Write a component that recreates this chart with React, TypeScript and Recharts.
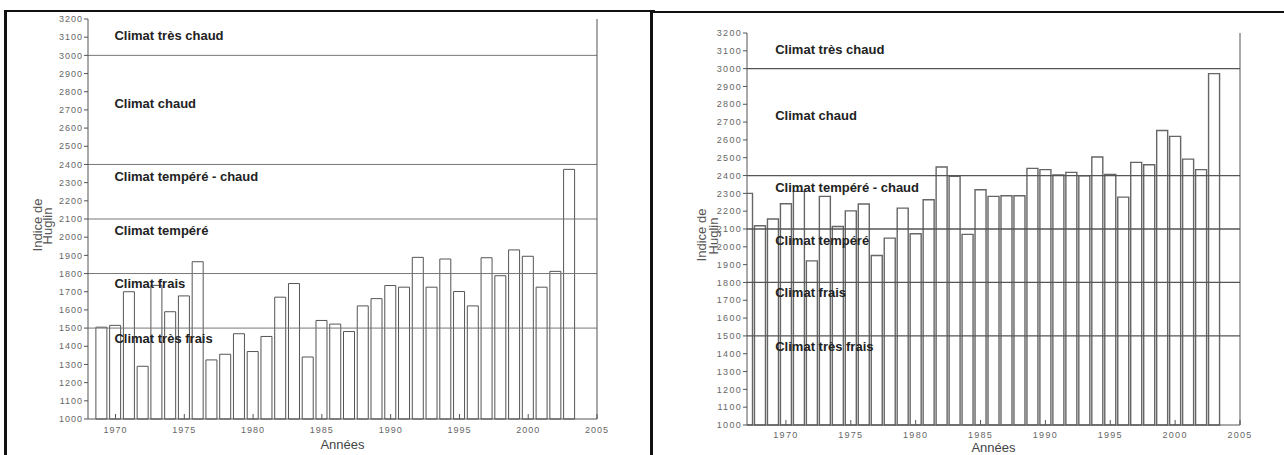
import { BarChart, Bar, XAxis, YAxis, ReferenceLine, ReferenceDot, Label } from "recharts";

const FONT = '"Liberation Sans", Arial, Helvetica, sans-serif';

// left panel: 1969-2003
const yearsLeft = [
  1969, 1970, 1971, 1972, 1973, 1974, 1975, 1976, 1977, 1978, 1979, 1980,
  1981, 1982, 1983, 1984, 1985, 1986, 1987, 1988, 1989, 1990, 1991, 1992,
  1993, 1994, 1995, 1996, 1997, 1998, 1999, 2000, 2001, 2002, 2003,
];
const huglinLeft = [
  1505, 1515, 1700, 1290, 1735, 1590, 1677, 1865, 1325, 1356, 1469, 1371,
  1454, 1670, 1745, 1341, 1542, 1522, 1481, 1622, 1662, 1734, 1725, 1889,
  1725, 1880, 1701, 1622, 1887, 1788, 1930, 1895, 1725, 1812, 2373,
];

// right panel: 1967-2003 (first bar cut by the axis)
const yearsRight = [
  1967, 1968, 1969, 1970, 1971, 1972, 1973, 1974, 1975, 1976, 1977, 1978,
  1979, 1980, 1981, 1982, 1983, 1984, 1985, 1986, 1987, 1988, 1989, 1990,
  1991, 1992, 1993, 1994, 1995, 1996, 1997, 1998, 1999, 2000, 2001, 2002,
  2003,
];
const huglinRight = [
  2300, 2118, 2156, 2242, 2311, 1921, 2283, 2114, 2202, 2240, 1951, 2049,
  2217, 2073, 2264, 2448, 2396, 2070, 2320, 2283, 2287, 2287, 2440, 2433,
  2404, 2418, 2399, 2504, 2406, 2279, 2474, 2461, 2653, 2620, 2492, 2433,
  2972,
];

const yearTicks = [1970, 1975, 1980, 1985, 1990, 1995, 2000, 2005];
const huglinTicks = [
  1000, 1100, 1200, 1300, 1400, 1500, 1600, 1700, 1800, 1900, 2000, 2100,
  2200, 2300, 2400, 2500, 2600, 2700, 2800, 2900, 3000, 3100, 3200,
];
const thresholds = [3000, 2400, 2100, 1800, 1500];
const zoneNames = [
  "Climat très chaud",
  "Climat chaud",
  "Climat tempéré - chaud",
  "Climat tempéré",
  "Climat frais",
  "Climat très frais",
];
const zoneLabelLevels = [3110, 2735, 2333, 2035, 1745, 1443];

const makeYLabel = (d1: number, d2: number) => (props: any) => {
  const vb = props.viewBox || {};
  const ax = vb.x + vb.width;
  const cy = vb.y + vb.height / 2 + 6;
  const x1 = ax - d1;
  const x2 = ax - d2;
  return (
    <g>
      <text x={x1} y={cy} transform={`rotate(-90 ${x1} ${cy})`} textAnchor="middle" fill="#555" fontSize={13} fontFamily={FONT}>
        Indice de
      </text>
      <text x={x2} y={cy + 1} transform={`rotate(-90 ${x2} ${cy + 1})`} textAnchor="middle" fill="#555" fontSize={13} fontFamily={FONT}>
        Huglin
      </text>
    </g>
  );
};

interface HuglinChartProps {
  years: number[];
  values: number[];
  xMin: number;
  labelYear: number;
  height: number;
  margin: { top: number; right: number; bottom: number; left: number };
  xAxisHeight: number;
  tickMarginX: number;
  titleOffset: number;
  yLabel: (props: any) => any;
  lineColor: string;
  lineWidth: number;
  barStroke: string;
  barStrokeWidth: number;
  spacing: number;
}

function HuglinChart(p: HuglinChartProps) {
  const data = p.years.map((year, i) => ({ year, huglin: p.values[i] }));
  const tickStyle = { fill: "#666", fontSize: 9, fontFamily: FONT, letterSpacing: p.spacing };
  return (
    <BarChart width={620} height={p.height} data={data} margin={p.margin}>
      <XAxis
        xAxisId="b"
        dataKey="year"
        type="number"
        domain={[p.xMin, 2005]}
        allowDataOverflow
        ticks={yearTicks}
        interval={0}
        tickSize={-5}
        tickMargin={p.tickMarginX}
        height={p.xAxisHeight}
        stroke="#555"
        tick={tickStyle}
      >
        <Label value="Années" position="insideBottom" offset={p.titleOffset} fill="#444" fontSize={13} fontFamily={FONT} />
      </XAxis>
      <XAxis
        xAxisId="t"
        orientation="top"
        mirror
        dataKey="year"
        type="number"
        domain={[p.xMin, 2005]}
        allowDataOverflow
        ticks={yearTicks}
        interval={0}
        tick={false}
        axisLine={false}
        tickSize={4}
        stroke="#999"
        height={10}
      />
      <YAxis
        yAxisId="l"
        domain={[1000, 3200]}
        ticks={huglinTicks}
        interval={0}
        width={60}
        tickSize={4}
        tickMargin={1}
        stroke="#555"
        tick={tickStyle}
        label={p.yLabel}
      />
      <YAxis
        yAxisId="r"
        orientation="right"
        mirror
        domain={[1000, 3200]}
        ticks={huglinTicks}
        interval={0}
        tick={false}
        tickSize={5}
        width={10}
        stroke="#555"
      />
      {thresholds.map((v) => (
        <ReferenceLine key={v} xAxisId="b" yAxisId="l" y={v} stroke={p.lineColor} strokeWidth={p.lineWidth} />
      ))}
      <Bar
        xAxisId="b"
        yAxisId="l"
        dataKey="huglin"
        barSize={11}
        fill="none"
        stroke={p.barStroke}
        strokeWidth={p.barStrokeWidth}
        isAnimationActive={false}
      />
      {zoneNames.map((name, i) => (
        <ReferenceDot
          key={name}
          xAxisId="b"
          yAxisId="l"
          x={p.labelYear}
          y={zoneLabelLevels[i]}
          r={1}
          fill="none"
          stroke="none"
          label={{ value: name, position: "right", offset: 0, fill: "#222", fontSize: 13, fontWeight: 700, fontFamily: FONT }}
        />
      ))}
    </BarChart>
  );
}

export default function App() {
  return (
    <div style={{ position: "absolute", left: 0, top: 0, width: 1284, height: 455, overflow: "hidden", background: "#fff" }}>
      <div style={{ position: "absolute", left: 4, top: 10, width: 648, height: 460, borderTop: "2px solid #111", borderLeft: "3px solid #111" }} />
      <div style={{ position: "absolute", left: 650, top: 11, width: 640, height: 460, borderTop: "2px solid #111", borderLeft: "3px solid #111" }} />
      <div style={{ position: "absolute", left: 10, top: 12 }}>
        <HuglinChart
          years={yearsLeft}
          values={huglinLeft}
          xMin={1968}
          labelYear={1969.85}
          height={443}
          margin={{ top: 7, right: 33, bottom: 0, left: 18 }}
          xAxisHeight={36}
          tickMarginX={13}
          titleOffset={6}
          yLabel={makeYLabel(46, 36)}
          lineColor="#777"
          lineWidth={1}
          barStroke="#555"
          barStrokeWidth={1}
          spacing={1}
        />
      </div>
      <div style={{ position: "absolute", left: 656, top: 14 }}>
        <HuglinChart
          years={yearsRight}
          values={huglinRight}
          xMin={1967}
          labelYear={1969.1}
          height={441}
          margin={{ top: 19, right: 36, bottom: 0, left: 31 }}
          xAxisHeight={30}
          tickMarginX={12}
          titleOffset={3}
          yLabel={makeYLabel(41, 29)}
          lineColor="#555"
          lineWidth={1.3}
          barStroke="#666"
          barStrokeWidth={1.4}
          spacing={1.3}
        />
      </div>
    </div>
  );
}
